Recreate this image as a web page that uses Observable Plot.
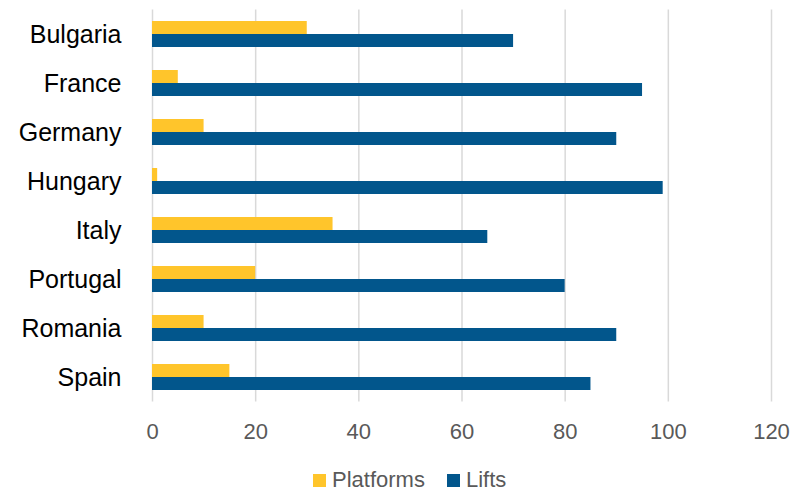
<!DOCTYPE html>
<html><head><meta charset="utf-8">
<script src="https://cdn.jsdelivr.net/npm/d3@7"></script>
<script src="https://cdn.jsdelivr.net/npm/@observablehq/plot@0.6"></script>
<style>
body{margin:0;background:#fff;font-family:"Liberation Sans",Arial,sans-serif;}
#chart{position:relative;width:792px;height:492px;overflow:hidden;}
#legend{position:absolute;left:313px;top:469px;display:flex;align-items:center;font-size:22px;color:#595959;line-height:22px;height:22px;white-space:nowrap;}
#legend .sw{width:13px;height:13px;display:inline-block;margin-right:6px;}
#legend .item{display:flex;align-items:center;margin-right:22px;}
</style>
</head><body><div id="chart"></div>
<script>
const countries = ["Bulgaria","France","Germany","Hungary","Italy","Portugal","Romania","Spain"];
const platforms = [30, 5, 10, 1, 35, 20, 10, 15];
const lifts = [70, 95, 90, 99, 65, 80, 90, 85];
const seriesNames = ["Platforms", "Lifts"];
const seriesColors = ["#FFC52B", "#02568C"];
const xTicks = [0, 20, 40, 60, 80, 100, 120];

const rows = countries.map((c, i) => ({country: c, platforms: platforms[i], lifts: lifts[i]}));

const chart = Plot.plot({
  width: 792,
  height: 450,
  marginTop: 9.5,
  marginBottom: 48.5,
  marginLeft: 152,
  marginRight: 21,
  style: {fontFamily: "'Liberation Sans', Arial, sans-serif", background: "white", overflow: "visible"},
  x: {domain: [0, 120], axis: null},
  y: {domain: countries, paddingInner: 0.47, paddingOuter: 0.235, axis: null},
  marks: [
    Plot.ruleX(xTicks, {stroke: "#d9d9d9", strokeWidth: 1.5}),
    Plot.barX(rows, {y: "country", x: "platforms", fill: seriesColors[0], insetBottom: 13}),
    Plot.barX(rows, {y: "country", x: "lifts", fill: seriesColors[1], insetTop: 13}),
    Plot.axisX({ticks: xTicks, tickSize: 0, tickPadding: 21.5, fontSize: 22, color: "#595959", label: null}),
    Plot.axisY({tickSize: 0, tickPadding: 31, fontSize: 25, color: "#000000", label: null})
  ]
});
document.getElementById("chart").appendChild(chart);

const legend = document.createElement("div");
legend.id = "legend";
seriesNames.forEach((name, i) => {
  const item = document.createElement("span");
  item.className = "item";
  const sw = document.createElement("span");
  sw.className = "sw";
  sw.style.background = seriesColors[i];
  item.appendChild(sw);
  item.appendChild(document.createTextNode(name));
  legend.appendChild(item);
});
document.getElementById("chart").appendChild(legend);
</script>
</body></html>
